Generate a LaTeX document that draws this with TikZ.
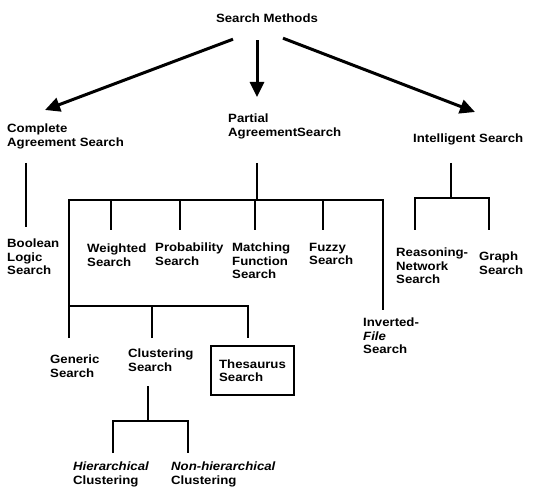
\documentclass[tikz,border=0pt]{standalone}
\usepackage{fontspec}
\setmainfont{Liberation Sans}[FakeStretch=1.1]
\usepackage{tikz}
\usetikzlibrary{arrows.meta, positioning}

\begin{document}
\begin{tikzpicture}[
    x=1pt, y=-1pt,
    term/.style={
      anchor=north west,
      inner sep=0pt,
      align=left,
      font=\bfseries\fontsize{12}{13.3}\selectfont
    },
    boxed/.style={
      term,
      draw,
      line width=2pt,
      minimum width=83pt,
      minimum height=49pt
    },
    arrow/.style={
      -{Triangle[length=15pt,width=14pt]},
      line width=3pt
    },
    link/.style={
      line width=2.8pt
    }
  ]
    \useasboundingbox (0,0) rectangle (541,489);

    % Top level
    \node (root) [term, anchor=north] at (267,14) {Search Methods};
    \node (complete) [term] at (7,124) {Complete\\Agreement Search};
    \node (partial) [term] at (228,114) {Partial\\AgreementSearch};
    \node (intelligent) [term] at (413,134) {Intelligent Search};

    % Row 2
    \node (boolean) [term] at (7,239) {Boolean\\Logic\\Search};
    \node (weighted) [term] at (87,244) {Weighted\\Search};
    \node (probability) [term] at (155,243) {Probability\\Search};
    \node (matching) [term] at (232,243) {Matching\\Function\\Search};
    \node (fuzzy) [term] at (309,243) {Fuzzy\\Search};
    \node (reasoning) [term] at (396,248) {Reasoning-\\Network\\Search};
    \node (graph) [term] at (479,252) {Graph\\Search};

    % Row 3
    \node (inverted) [term] at (363,318) {Inverted-\\\textit{File}\\Search};
    \node (generic) [term] at (50,355) {Generic\\Search};
    \node (clustering) [term] at (128,349) {Clustering\\Search};
    \node (thesaurus) [boxed] at (210,345) {Thesaurus\\Search};

    % Row 4
    \node (hier) [term] at (73,462) {\textit{Hierarchical}\\Clustering};
    \node (nonhier) [term] at (171,462) {\textit{Non-hierarchical}\\Clustering};

    % Junctions
    \coordinate (complete-out) at (26,163);
    \coordinate (boolean-in) at (26,227);
    \coordinate (partial-out) at (257,163);
    \coordinate (pjoin) at (257,200);
    \coordinate (weighted-in) at (111,230);
    \coordinate (probability-in) at (180,230);
    \coordinate (matching-in) at (255,230);
    \coordinate (fuzzy-in) at (323,230);
    \coordinate (inverted-in) at (383,310);
    \coordinate (sjoin) at (69,306);
    \coordinate (generic-in) at (69,338);
    \coordinate (clustering-in) at (152,338);
    \coordinate (thesaurus-in) at (248,338);
    \coordinate (intelligent-out) at (451,163);
    \coordinate (ijoin) at (451,198);
    \coordinate (reasoning-in) at (415,230);
    \coordinate (graph-in) at (489,230);
    \coordinate (clustering-out) at (148,386);
    \coordinate (cjoin) at (148,421);
    \coordinate (hier-in) at (113,453);
    \coordinate (nonhier-in) at (188,453);

    % Arrows
    \draw [arrow] ([xshift=-34pt,yshift=-16pt]root.south) -- ([xshift=38pt,yshift=14pt]complete.north west);
    \draw [arrow] ([xshift=-10pt,yshift=-17pt]root.south) -- ([xshift=29pt,yshift=17pt]partial.north west);
    \draw [arrow] ([xshift=16pt,yshift=-15pt]root.south) -- ([xshift=62pt,yshift=22pt]intelligent.north west);

    % Connections
    \draw [link] (complete-out) -- (boolean-in);
    \draw [link] (partial-out) -- (pjoin);
    \draw [link] (generic-in) |- (pjoin) -| (inverted-in);
    \foreach \n in {weighted,probability,matching,fuzzy}
      \draw [link] (\n-in) -- (\n-in |- pjoin);
    \draw [link] (sjoin) -| (thesaurus-in);
    \draw [link] (clustering-in) -- (clustering-in |- sjoin);
    \draw [link] (intelligent-out) -- (ijoin);
    \draw [link] (reasoning-in) |- (ijoin) -| (graph-in);
    \draw [link] (clustering-out) -- (cjoin);
    \draw [link] (hier-in) |- (cjoin) -| (nonhier-in);

  \end{tikzpicture}
\end{document}
